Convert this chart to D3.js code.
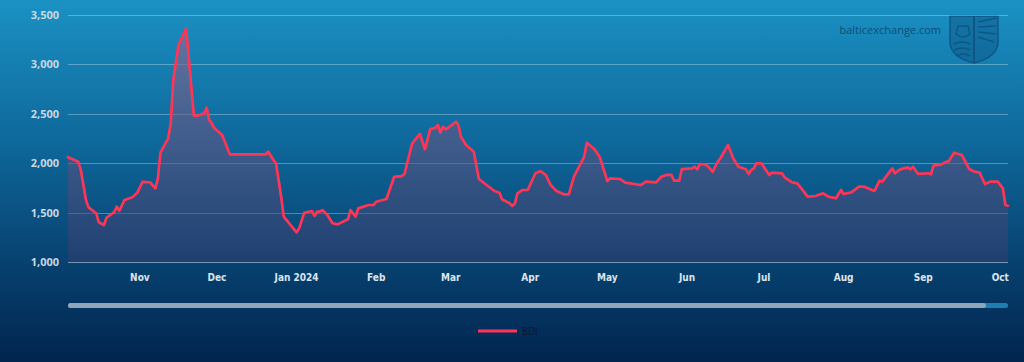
<!DOCTYPE html>
<html>
<head>
<meta charset="utf-8">
<script src="https://cdn.jsdelivr.net/npm/d3@7"></script>
<style>
  html, body { margin: 0; padding: 0; background: #03274f; }
  svg { display: block; }
</style>
</head>
<body>
<div id="chart"></div>
<script>
// ---- data ----
const seriesName = "BDI";
const dates = [
  "2023-10-04","2023-10-08","2023-10-09","2023-10-11","2023-10-12","2023-10-15","2023-10-16","2023-10-18","2023-10-19","2023-10-22",
  "2023-10-23","2023-10-24","2023-10-26","2023-10-29","2023-10-31","2023-11-02","2023-11-05","2023-11-07","2023-11-08","2023-11-09",
  "2023-11-12","2023-11-13","2023-11-14","2023-11-16","2023-11-19","2023-11-20","2023-11-22","2023-11-23","2023-11-26","2023-11-27",
  "2023-11-28","2023-11-29","2023-11-30","2023-12-03","2023-12-06","2023-12-14","2023-12-20","2023-12-21","2023-12-23","2023-12-24",
  "2023-12-26","2023-12-27","2024-01-01","2024-01-02","2024-01-04","2024-01-07","2024-01-08","2024-01-09","2024-01-10","2024-01-11",
  "2024-01-13","2024-01-15","2024-01-17","2024-01-19","2024-01-21","2024-01-22","2024-01-24","2024-01-25","2024-01-29","2024-01-31",
  "2024-02-01","2024-02-05","2024-02-08","2024-02-11","2024-02-12","2024-02-15","2024-02-18","2024-02-20","2024-02-22","2024-02-24",
  "2024-02-25","2024-02-26","2024-02-27","2024-02-28","2024-03-01","2024-03-03","2024-03-04","2024-03-05","2024-03-07","2024-03-10",
  "2024-03-12","2024-03-18","2024-03-20","2024-03-21","2024-03-24","2024-03-25","2024-03-26","2024-03-27","2024-03-29","2024-03-31",
  "2024-04-03","2024-04-05","2024-04-07","2024-04-09","2024-04-11","2024-04-14","2024-04-16","2024-04-18","2024-04-22","2024-04-23",
  "2024-04-26","2024-04-28","2024-05-01","2024-05-02","2024-05-06","2024-05-08","2024-05-14","2024-05-16","2024-05-20","2024-05-22",
  "2024-05-24","2024-05-26","2024-05-27","2024-05-29","2024-05-30","2024-06-03","2024-06-04","2024-06-05","2024-06-06","2024-06-08",
  "2024-06-09","2024-06-11","2024-06-13","2024-06-14","2024-06-17","2024-06-19","2024-06-21","2024-06-24","2024-06-25","2024-06-26",
  "2024-06-27","2024-06-28","2024-06-30","2024-07-03","2024-07-04","2024-07-08","2024-07-09","2024-07-12","2024-07-14","2024-07-18",
  "2024-07-21","2024-07-24","2024-07-26","2024-07-29","2024-07-31","2024-08-01","2024-08-04","2024-08-07","2024-08-09","2024-08-13",
  "2024-08-15","2024-08-16","2024-08-20","2024-08-21","2024-08-23","2024-08-26","2024-08-27","2024-08-28","2024-08-30","2024-09-03",
  "2024-09-04","2024-09-05","2024-09-08","2024-09-10","2024-09-11","2024-09-13","2024-09-16","2024-09-19","2024-09-21","2024-09-23",
  "2024-09-25","2024-09-27","2024-09-30","2024-10-02","2024-10-03","2024-10-04"
];
const bdiValues = [
  2060,2015,1931,1628,1553,1493,1402,1374,1448,1506,
  1560,1519,1628,1655,1702,1810,1807,1746,1847,2106,
  2252,2404,2842,3196,3365,3078,2481,2478,2505,2562,
  2437,2404,2353,2285,2090,2090,2090,2116,2032,1999,
  1661,1459,1300,1341,1499,1516,1466,1509,1509,1526,
  1476,1392,1381,1408,1432,1526,1459,1543,1577,1577,
  1610,1638,1863,1870,1891,2201,2296,2141,2343,2359,
  2387,2309,2369,2343,2377,2420,2387,2268,2184,2116,
  1840,1719,1701,1635,1594,1567,1594,1695,1729,1729,
  1898,1921,1881,1779,1722,1685,1685,1863,2066,2208,
  2141,2066,1820,1847,1840,1803,1779,1813,1806,1863,
  1881,1881,1823,1823,1941,1948,1965,1938,1992,1988,
  1972,1914,2015,2050,2184,2050,1965,1938,1891,1931,
  1948,1999,1999,1881,1904,1898,1857,1806,1796,1661,
  1668,1695,1661,1645,1729,1688,1705,1762,1762,1719,
  1823,1813,1948,1898,1938,1958,1938,1965,1891,1898,
  1887,1975,1988,2015,2022,2106,2083,1938,1914,1904,
  1789,1813,1813,1746,1577,1570
];
const yTicks = [1000, 1500, 2000, 2500, 3000, 3500];
const xTickDates = ["2023-11-01","2023-12-01","2024-01-01","2024-02-01","2024-03-01","2024-04-01","2024-05-01","2024-06-01","2024-07-01","2024-08-01","2024-09-01","2024-10-01"];
const xTickLabels = ["Nov","Dec","Jan 2024","Feb","Mar","Apr","May","Jun","Jul","Aug","Sep","Oct"];
const domainDates = ["2023-10-04","2024-10-04"];
const watermarkText = "balticexchange.com";

// ---- layout ----
const W = 1024, H = 362;
const plotL = 68, plotR = 1008, plotT = 15, plotB = 262;
const parse = d3.utcParse("%Y-%m-%d");

const data = dates.map((d, i) => ({ date: parse(d), value: bdiValues[i] }));

const x = d3.scaleUtc().domain(domainDates.map(parse)).range([plotL, plotR]);
const y = d3.scaleLinear().domain([1000, 3500]).range([plotB, plotT]);

const svg = d3.select("#chart").append("svg").attr("width", W).attr("height", H);
const defs = svg.append("defs");

const bg = defs.append("linearGradient").attr("id", "bg").attr("x1", 0).attr("y1", 0).attr("x2", 0).attr("y2", 1);
bg.append("stop").attr("offset", "0%").attr("stop-color", "#1b91c3");
bg.append("stop").attr("offset", "40%").attr("stop-color", "#0e679a");
bg.append("stop").attr("offset", "75%").attr("stop-color", "#063f6d");
bg.append("stop").attr("offset", "100%").attr("stop-color", "#02244f");

const af = defs.append("linearGradient").attr("id", "areaFill")
  .attr("gradientUnits", "userSpaceOnUse").attr("x1", 0).attr("y1", plotT).attr("x2", 0).attr("y2", plotB);
af.append("stop").attr("offset", "0%").attr("stop-color", "rgb(150,105,145)").attr("stop-opacity", 0.65);
af.append("stop").attr("offset", "100%").attr("stop-color", "rgb(60,60,110)").attr("stop-opacity", 0.45);

svg.append("rect").attr("width", W).attr("height", H).attr("fill", "url(#bg)");

// watermark
const wm = svg.append("g").attr("class", "watermark");
wm.append("text").attr("x", 941).attr("y", 34).attr("text-anchor", "end")
  .attr("font-family", "'Open Sans', sans-serif").attr("font-size", 11)
  .attr("fill", "#0b4773").attr("fill-opacity", 0.95).text(watermarkText);
const sh = wm.append("g").attr("fill", "none").attr("stroke", "#0d5281").attr("stroke-opacity", 0.85);
sh.append("path").attr("d", "M950,16 L998,16 L998,42 Q998,57 974,63 Q950,57 950,42 Z")
  .attr("fill", "#0e5584").attr("fill-opacity", 0.45).attr("stroke-width", 1.5);
sh.append("path").attr("d", "M974,16 L974,63").attr("stroke-width", 2);
sh.append("path").attr("d", "M954,44 Q962,40 970,44 M954,50 Q962,46 970,50 M956,56 Q963,52 970,56").attr("stroke-width", 1.6);
sh.append("path").attr("d", "M956,34 Q963,40 970,34 L968,26 L958,26 Z").attr("stroke-width", 1.4);
sh.append("path").attr("d", "M978,22 L996,18 M978,27 L996,26 M978,32 L996,34 M978,37 L994,42").attr("stroke-width", 1.4);

// grid
svg.append("g").selectAll("line").data(yTicks).join("line")
  .attr("x1", plotL).attr("x2", plotR)
  .attr("y1", d => Math.round(y(d)) + 0.5).attr("y2", d => Math.round(y(d)) + 0.5)
  .attr("stroke", "#ffffff").attr("stroke-opacity", d => d === 1000 ? 0.45 : 0.3).attr("stroke-width", 1);

// y labels
svg.append("g").selectAll("text").data(yTicks).join("text")
  .attr("x", 59).attr("y", d => y(d) + 4)
  .attr("text-anchor", "end")
  .attr("font-family", "'Open Sans', sans-serif").attr("font-weight", 700).attr("font-size", 11)
  .attr("fill", "#c9d8e3")
  .text(d => d3.format(",")(d));

// x labels
svg.append("g").selectAll("text").data(xTickDates).join("text")
  .attr("x", (d, i) => Math.min(x(parse(d)), 1002))
  .attr("y", 281)
  .attr("text-anchor", "middle")
  .attr("font-family", "'DejaVu Sans Condensed', 'Roboto', sans-serif").attr("font-weight", 700).attr("font-size", 10)
  .attr("fill", "#dce5ee")
  .text((d, i) => xTickLabels[i]);

// area + line
const area = d3.area().x(d => x(d.date)).y0(plotB).y1(d => y(d.value)).curve(d3.curveLinear);
const line = d3.line().x(d => x(d.date)).y(d => y(d.value)).curve(d3.curveLinear);

svg.append("path").datum(data).attr("d", area).attr("fill", "url(#areaFill)");
svg.append("path").datum(data).attr("d", line)
  .attr("fill", "none").attr("stroke", "#ff3556").attr("stroke-width", 2.7)
  .attr("stroke-linejoin", "round").attr("stroke-linecap", "round");

// scrollbar (navigator)
svg.append("rect").attr("x", plotL).attr("y", 303).attr("width", plotR - plotL).attr("height", 5)
  .attr("rx", 2.5).attr("fill", "#1d7fb0");
svg.append("rect").attr("x", plotL).attr("y", 303).attr("width", 986 - plotL).attr("height", 5)
  .attr("rx", 2.5).attr("fill", "#8ea5bb");

// legend
const lg = svg.append("g");
lg.append("line").attr("x1", 478).attr("x2", 517).attr("y1", 331).attr("y2", 331)
  .attr("stroke", "#ff3556").attr("stroke-width", 3);
lg.append("text").attr("x", 522).attr("y", 335)
  .attr("font-family", "'DejaVu Sans Condensed', 'Roboto', sans-serif").attr("font-size", 10)
  .attr("fill", "#061a33").text(seriesName);
</script>
</body>
</html>
